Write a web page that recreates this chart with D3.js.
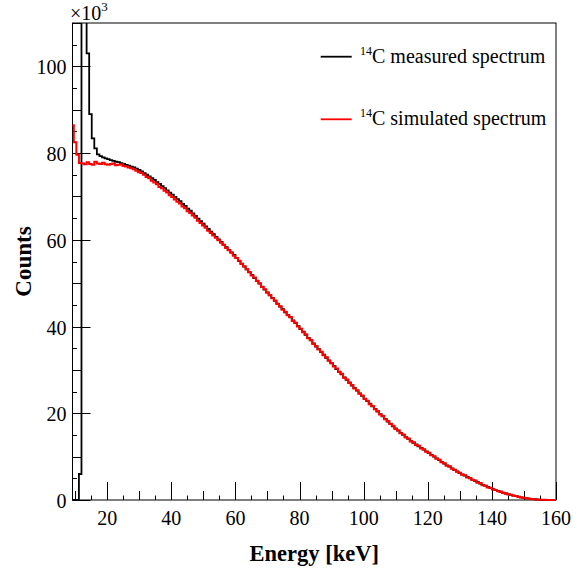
<html>
<head>
    <meta charset="utf-8">
    <title>14C measured and simulated spectrum</title>
    <style>
        body {margin: 0; background: #fff;}
        svg {display: block; font-family: "Liberation Serif", "Times New Roman", serif;}
        .axis text {font-family: "Liberation Serif", serif; fill: #000;}
    </style>
</head>
<body>
    <svg></svg>
    <script src="https://d3js.org/d3.v7.min.js"></script>
    <script type="text/javascript">
    // histogram binning (keV)
    const binStart = 8.8;
    const binWidth = 0.8;

    // counts per bin, x10^3
    const measured = [
        0, 0, 0, 6, 140, 125, 103, 89, 83.4, 81.1,
        79.7, 79.3, 79.0, 78.8, 78.6, 78.4, 78.2, 78.0, 77.9, 77.7,
        77.5, 77.3, 77.1, 76.9, 76.7, 76.4, 76.1, 75.8, 75.4, 75.0,
        74.6, 74.2, 73.8, 73.3, 72.9, 72.4, 71.9, 71.4, 70.9, 70.4,
        69.9, 69.4, 68.9, 68.3, 67.8, 67.2, 66.7, 66.1, 65.5, 64.9,
        64.3, 63.7, 63.1, 62.5, 61.9, 61.3, 60.7, 60.1, 59.5, 58.9,
        58.3, 57.7, 57.1, 56.5, 55.8, 55.1, 54.5, 53.8, 53.2, 52.5,
        51.9, 51.2, 50.6, 49.9, 49.2, 48.5, 47.9, 47.2, 46.6, 45.9,
        45.3, 44.6, 44.0, 43.3, 42.7, 42.1, 41.4, 40.8, 40.1, 39.4,
        38.8, 38.1, 37.4, 36.8, 36.1, 35.4, 34.8, 34.1, 33.5, 32.8,
        32.2, 31.5, 30.9, 30.2, 29.6, 29.0, 28.3, 27.7, 27.1, 26.4,
        25.8, 25.2, 24.6, 24.0, 23.4, 22.8, 22.2, 21.6, 21.0, 20.4,
        19.8, 19.3, 18.7, 18.1, 17.6, 17.0, 16.5, 16.0, 15.5, 15.0,
        14.5, 14.1, 13.6, 13.2, 12.8, 12.4, 12.0, 11.6, 11.2, 10.8,
        10.4, 10.0, 9.6, 9.2, 8.8, 8.4, 8.0, 7.7, 7.3, 6.9,
        6.6, 6.2, 5.9, 5.6, 5.3, 5.0, 4.7, 4.4, 4.1, 3.8,
        3.5, 3.3, 3.0, 2.8, 2.5, 2.3, 2.1, 1.9, 1.7, 1.5,
        1.3, 1.2, 1.0, 0.9, 0.75, 0.6, 0.5, 0.4, 0.32, 0.25,
        0.18, 0.12, 0.08, 0.05, 0.03, 0.01, 0, 0, 0
    ];

    const simulated = [
        86.4, 82.5, 79.6, 77.7, 77.6, 77.4, 77.9, 77.5, 77.3, 78.0,
        77.6, 77.5, 77.8, 77.4, 77.3, 77.5, 77.6, 77.2, 77.3, 77.4,
        77.0, 76.9, 76.7, 76.5, 76.3, 75.9, 75.6, 75.4, 75.0, 74.5,
        74.2, 73.6, 73.2, 72.8, 72.2, 71.9, 71.3, 70.9, 70.3, 69.9,
        69.3, 68.8, 68.4, 67.7, 67.3, 66.6, 66.2, 65.6, 65.1, 64.4,
        63.9, 63.3, 62.8, 62.1, 61.6, 61.0, 60.5, 59.9, 59.3, 58.8,
        58.1, 57.6, 57.0, 56.3, 55.8, 55.2, 54.4, 53.9, 53.2, 52.6,
        51.8, 51.3, 50.5, 50.0, 49.1, 48.6, 47.8, 47.3, 46.5, 46.0,
        45.2, 44.7, 43.9, 43.4, 42.6, 42.2, 41.3, 40.9, 40.0, 39.5,
        38.7, 38.2, 37.3, 36.9, 36.0, 35.5, 34.7, 34.2, 33.4, 32.9,
        32.1, 31.6, 30.8, 30.3, 29.5, 29.1, 28.2, 27.8, 27.0, 26.5,
        25.7, 25.3, 24.5, 24.1, 23.3, 22.9, 22.1, 21.7, 20.9, 20.5,
        19.7, 19.4, 18.6, 18.2, 17.5, 17.1, 16.4, 16.1, 15.4, 15.1,
        14.4, 14.2, 13.5, 13.3, 12.7, 12.5, 11.9, 11.7, 11.1, 10.9,
        10.3, 10.1, 9.5, 9.3, 8.7, 8.5, 7.9, 7.8, 7.2, 7.0,
        6.5, 6.3, 5.8, 5.7, 5.2, 5.1, 4.6, 4.5, 4.0, 3.9,
        3.4, 3.3, 2.9, 2.8, 2.4, 2.3, 2.0, 1.9, 1.6, 1.5,
        1.3, 1.2, 1.0, 0.9, 0.7, 0.6, 0.5, 0.4, 0.3, 0.25,
        0.18, 0.12, 0.08, 0.05, 0.03, 0.01, 0, 0, 0
    ];

    const xLabels = [20, 40, 60, 80, 100, 120, 140, 160];
    const yLabels = [0, 20, 40, 60, 80, 100];
    const legendNames = ["C measured spectrum", "C simulated spectrum"];

    let width = 582;
    let height = 568;
    let margin = {top: 23, right: 26, bottom: 68, left: 72.5};

    let svg = d3.select("svg")
        .attr("width", width)
        .attr("height", height);

    let x = d3.scaleLinear()
        .domain([9.2, 160])
        .range([margin.left, width - margin.right]);

    let y = d3.scaleLinear()
        .domain([0, 110])
        .range([height - margin.bottom, margin.top]);

    let x0 = x.range()[0], x1 = x.range()[1];
    let y0 = y.range()[0], y1 = y.range()[1];

    svg.append("clipPath").attr("id", "frame")
        .append("rect")
        .attr("x", x0)
        .attr("y", y1)
        .attr("width", x1 - x0 + 1)
        .attr("height", y0 - y1 + 1.5);

    function tickLen(v) {
        if (Math.round(v) % 20 === 0) return 18;
        if (Math.round(v) % 10 === 0) return 9;
        return 4.5;
    }

    let xTickVals = d3.range(10, 161, 5);
    let yTickVals = d3.range(0, 111, 5);

    // tick marks pointing into the frame
    let xTickPath = xTickVals.map(v => {
        let px = Math.round(x(v)) + 0.5;
        return "M" + px + "," + y0 + "V" + (y0 - tickLen(v));
    }).join("");
    svg.append("path")
        .attr("d", xTickPath)
        .attr("fill", "none")
        .attr("stroke", "#000")
        .attr("stroke-width", 1);

    let yTickPath = yTickVals.map(v => {
        let py = Math.round(y(v)) + 0.5;
        return "M" + x0 + "," + py + "H" + (x0 + tickLen(v));
    }).join("");
    svg.append("path")
        .attr("d", yTickPath)
        .attr("fill", "none")
        .attr("stroke", "#000")
        .attr("stroke-width", 1);

    // tick labels
    svg.append("g").attr("class", "axis")
        .selectAll("text")
        .data(xLabels)
        .join("text")
        .attr("x", d => x(d))
        .attr("y", y0 + 25)
        .attr("text-anchor", "middle")
        .style("font-size", "20px")
        .text(d => d);

    svg.append("g").attr("class", "axis")
        .selectAll("text")
        .data(yLabels)
        .join("text")
        .attr("x", x0 - 6)
        .attr("y", d => y(d) + 8)
        .attr("text-anchor", "end")
        .style("font-size", "20px")
        .text(d => d);

    // frame
    svg.append("rect")
        .attr("x", x0)
        .attr("y", y1)
        .attr("width", x1 - x0)
        .attr("height", y0 - y1)
        .attr("fill", "none")
        .attr("stroke", "#000")
        .attr("stroke-width", 1);

    // step histogram outline
    function histPoints(vals) {
        let pts = vals.map((v, i) => [binStart + i * binWidth, v]);
        pts.push([binStart + vals.length * binWidth, vals[vals.length - 1]]);
        return pts;
    }

    let line = d3.line()
        .x(d => x(d[0]))
        .y(d => y(d[1]))
        .curve(d3.curveStepAfter);

    let plot = svg.append("g").attr("clip-path", "url(#frame)");

    plot.append("path")
        .attr("d", line(histPoints(measured)))
        .attr("fill", "none")
        .attr("stroke", "#000")
        .attr("stroke-width", 1.8);

    plot.append("path")
        .attr("d", line(histPoints(simulated)))
        .attr("fill", "none")
        .attr("stroke", "#ff0000")
        .attr("stroke-width", 2);

    // exponent
    let expo = svg.append("text")
        .attr("x", 70)
        .attr("y", 20)
        .style("font-size", "20px")
        .text("\u00d710");
    expo.append("tspan")
        .attr("dy", -9)
        .style("font-size", "13px")
        .text("3");

    // axis titles
    svg.append("text")
        .attr("x", (x0 + x1) / 2)
        .attr("y", 561)
        .attr("text-anchor", "middle")
        .style("font-size", "22.5px")
        .style("font-weight", "bold")
        .text("Energy [keV]");

    svg.append("text")
        .attr("transform", "translate(31," + ((y0 + y1) / 2) + ") rotate(-90)")
        .attr("text-anchor", "middle")
        .style("font-size", "23px")
        .style("font-weight", "bold")
        .text("Counts");

    // legend
    let legend = svg.append("g");
    let colors = ["#000", "#ff0000"];
    legendNames.forEach((name, i) => {
        let ly = 56.7 + i * 62.6;
        legend.append("line")
            .attr("x1", 320.7).attr("x2", 351.7)
            .attr("y1", ly).attr("y2", ly)
            .attr("stroke", colors[i])
            .attr("stroke-width", 1.8);
        let t = legend.append("text")
            .attr("x", 360)
            .attr("y", ly + 6)
            .style("font-size", "20px");
        t.append("tspan")
            .attr("dy", -8)
            .style("font-size", "12px")
            .text("14");
        t.append("tspan")
            .attr("dy", 8)
            .text(name);
    });
</script>
</body>
</html>
